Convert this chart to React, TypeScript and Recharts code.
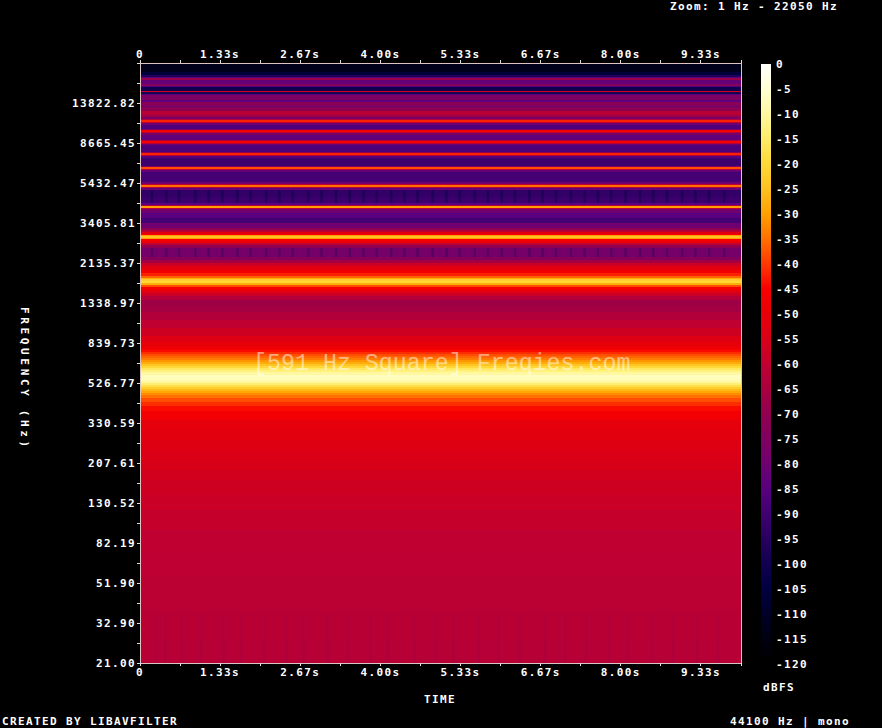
import React from "react";
import { ComposedChart, Area, Bar, XAxis, YAxis } from "recharts";

const PIXEL_FONT = "'DejaVu Sans Mono', monospace";

// Log-frequency bins of the spectrogram (0 = 21 Hz, 600 = 22050 Hz), with the level of each band.
const bandTopBins = [600,591,588,586,585,583,579,577,576,572,571,569,568,563,561,558,555,552,548,546,544,543,541,540,538,534,533,531,530,528,523,522,520,519,518,511,510,508,507,505,497,496,494,493,491,481,479,478,476,475,473,466,460,458,457,455,454,450,445,440,435,433,431,429,428,427,425,424,422,420,418,415,406,403,400,397,393,390,387,385,384,382,380,378,376,373,370,367,363,357,351,343,335,327,321,316,313,311,309,307,305,303,301,299,297,295,293,291,288,284,282,280,278,276,274,272,270,268,265,261,257,252,243,233,223,213,203,193,183,168,153,133,113,88,53,23];
const bandDb = [-113,-106,-97,-85,-68,-82,-74,-84,-100,-55,-98,-86,-76,-84,-72,-76,-70,-62,-67,-77,-62,-42,-60,-80,-87,-77,-45,-62,-77,-83,-65,-45,-62,-80,-87,-70,-42,-62,-85,-91,-75,-38,-62,-82,-89,-80,-60,-35,-62,-82,-93,-91,-85,-62,-30,-60,-80,-85,-89,-80,-70,-62,-52,-45,-30,-24,-30,-45,-50,-60,-70,-78,-74,-66,-58,-52,-47,-42,-36,-28,-22,-20,-28,-38,-46,-52,-58,-63,-67,-66,-63,-60,-57,-53,-50,-47,-44,-41,-38,-36,-34,-31,-28,-24,-20,-16,-13,-10,-7,-8,-10,-14,-18,-22,-26,-29,-32,-35,-38,-41,-44,-47,-51,-52,-53,-54,-55,-56,-57,-58,-59,-60,-60.5,-61,-61.5,-62];

const freqTicks = [0,20,40,60,80,100,120,140,160,180,200,220,240,260,280,300,320,340,360,380,400,420,440,460,480,500,520,540,560,580,600];
const freqLabels = ["21.00","32.90","51.90","82.19","130.52","207.61","330.59","526.77","839.73","1338.97","2135.37","3405.81","5432.47","8665.45","13822.82"];

const timeTicks = [0,0.6667,1.3333,2,2.6667,3.3333,4,4.6667,5.3333,6,6.6667,7.3333,8,8.6667,9.3333,10];
const timeLabels = ["0","1.33s","2.67s","4.00s","5.33s","6.67s","8.00s","9.33s"];
const timeEnds = [0, 10];

// Moments (s) where short dips show up in the low noise floor and in the dark bands.
const lowDipTimes = [0.25,0.4,0.68,1.0,1.37,1.66,2.05,2.42,2.7,3.1,3.45,3.82,4.1,4.55,4.9,5.2,5.62,5.95,6.3,6.72,7.05,7.4,7.78,8.1,8.5,8.85,9.25,9.6];
const midDipTimes = [0.18,0.42,0.63,0.9,1.12,1.35,1.6,1.82,2.08,2.3,2.52,2.78,3.0,3.24,3.47,3.7,3.92,4.16,4.38,4.6,4.85,5.08,5.3,5.55,5.77,6.0,6.22,6.46,6.68,6.9,7.15,7.38,7.6,7.82,8.06,8.3,8.52,8.75,9.0,9.22,9.45,9.7];
const lowDipRange = [0, 48];
const midDipRange = [460, 473];
const lowerDipRange = [406, 415];
const dipLength = 0.04;

const dbTicks = [0,-5,-10,-15,-20,-25,-30,-35,-40,-45,-50,-55,-60,-65,-70,-75,-80,-85,-90,-95,-100,-105,-110,-115,-120];
const dbColors = ["#ffffff","#ffffd4","#fff8a0","#ffec68","#ffd838","#ffc020","#ffa000","#ff7000","#ff3800","#f80000","#e80008","#d80018","#c00030","#a80040","#900050","#800060","#700070","#580080","#400070","#280060","#100050","#000040","#000028","#000010","#000000"];

const hexToRgb = (h: string) => [1, 3, 5].map((i) => parseInt(h.slice(i, i + 2), 16));
const colorOf = (db: number) => {
  const pos = Math.min(dbTicks.length - 1, Math.max(0, -db / 5));
  const i = Math.min(dbTicks.length - 2, Math.floor(pos));
  const a = hexToRgb(dbColors[i]);
  const b = hexToRgb(dbColors[i + 1]);
  const f = pos - i;
  return `rgb(${a.map((v, k) => Math.round(v + (b[k] - v) * f)).join(",")})`;
};

const bands = bandDb.map((db, i) => ({
  key: `band${i}`,
  top: bandTopBins[i],
  bottom: i + 1 < bandTopBins.length ? bandTopBins[i + 1] : 0,
  db,
}));

const spectrumRows = timeEnds.map((t) => {
  const row: Record<string, number | number[]> = { t };
  bands.forEach((b) => {
    row[b.key] = [b.bottom, b.top];
  });
  return row;
});

const dipRows = (times: number[], range: number[]) =>
  times.flatMap((t) => [
    { t, range },
    { t: t + dipLength, range },
    { t: t + dipLength + 0.001, range: null },
  ]);

const colorbarRows = [{ name: "dBFS", range: [-120, 0] }];

const tickStyle = {
  fontFamily: PIXEL_FONT,
  fontSize: 11,
  fontWeight: 700,
  letterSpacing: 1.38,
  fill: "#ffffff",
};
const frame = { stroke: "#dcc4c0", shapeRendering: "crispEdges" };
const tickMark = { stroke: "#e0e0e0", shapeRendering: "crispEdges" };

const fmtTime = (v: number) => {
  const i = timeTicks.indexOf(v);
  return i % 2 === 0 && i / 2 < timeLabels.length ? timeLabels[i / 2] : "";
};
const fmtFreq = (v: number) => (v % 40 === 0 && v / 40 < freqLabels.length ? freqLabels[v / 40] : "");

const Caption = ({ x, y, children, style }: any) => (
  <div
    style={{
      position: "absolute",
      left: x,
      top: y,
      fontFamily: PIXEL_FONT,
      fontSize: 11,
      fontWeight: 700,
      letterSpacing: 1.38,
      lineHeight: "12px",
      color: "#fff",
      whiteSpace: "pre",
      ...style,
    }}
  >
    {children}
  </div>
);

export default function App() {
  return (
    <div style={{ position: "fixed", left: 0, top: 0, width: 882, height: 728, background: "#000", overflow: "hidden" }}>
      <div style={{ position: "absolute", left: 0, top: 0 }}>
        <ComposedChart width={882} height={728} data={spectrumRows} margin={{ top: 0, right: 0, bottom: 0, left: 0 }}>
          <XAxis dataKey="t" type="number" xAxisId="bottom" orientation="bottom" domain={[0, 10]} ticks={timeTicks} interval={0} height={65} tickSize={3} tickMargin={2} tick={tickStyle} tickLine={tickMark} axisLine={frame} tickFormatter={fmtTime} />
          <XAxis dataKey="t" type="number" xAxisId="top" orientation="top" domain={[0, 10]} ticks={timeTicks} interval={0} height={63} tickSize={3} tickMargin={2} tick={tickStyle} tickLine={tickMark} axisLine={frame} tickFormatter={fmtTime} />
          <YAxis type="number" yAxisId="left" orientation="left" domain={[0, 600]} ticks={freqTicks} interval={0} width={140} tickSize={3} tickMargin={1} tick={tickStyle} tickLine={tickMark} axisLine={frame} tickFormatter={fmtFreq} />
          <YAxis type="number" yAxisId="right" orientation="right" domain={[0, 600]} ticks={freqTicks} interval={0} width={141} tickSize={3} tick={false} tickLine={tickMark} axisLine={frame} />
          {bands.map((b) => (
            <Area
              key={b.key}
              xAxisId="bottom"
              yAxisId="left"
              dataKey={b.key}
              type="linear"
              stroke="none"
              fill={colorOf(b.db)}
              fillOpacity={1}
              dot={false}
              activeDot={false}
              isAnimationActive={false}
            />
          ))}
          <Area xAxisId="bottom" yAxisId="left" data={dipRows(lowDipTimes, lowDipRange)} dataKey="range" name="lowDip" type="linear" stroke="none" fill="#800060" fillOpacity={0.14} dot={false} activeDot={false} isAnimationActive={false} />
          <Area xAxisId="bottom" yAxisId="left" data={dipRows(midDipTimes, midDipRange)} dataKey="range" name="midDip" type="linear" stroke="none" fill="#000040" fillOpacity={0.4} dot={false} activeDot={false} isAnimationActive={false} />
          <Area xAxisId="bottom" yAxisId="left" data={dipRows(midDipTimes, lowerDipRange)} dataKey="range" name="lowerDip" type="linear" stroke="none" fill="#000040" fillOpacity={0.25} dot={false} activeDot={false} isAnimationActive={false} />
        </ComposedChart>
      </div>

      <div style={{ position: "absolute", left: 761, top: 54 }}>
        <ComposedChart width={70} height={620} data={colorbarRows} barCategoryGap={0} margin={{ top: 10, right: 0, bottom: 10, left: 0 }}>
          <defs>
            <linearGradient id="dbGrad" x1="0" y1="0" x2="0" y2="1">
              {dbTicks.map((d, i) => (
                <stop key={d} offset={`${(i / (dbTicks.length - 1)) * 100}%`} stopColor={dbColors[i]} />
              ))}
            </linearGradient>
          </defs>
          <XAxis dataKey="name" type="category" hide />
          <YAxis type="number" orientation="right" domain={[-120, 0]} ticks={dbTicks} interval={0} width={60} tickSize={0} tickMargin={5} tickLine={false} axisLine={false} tick={tickStyle} />
          <Bar dataKey="range" fill="url(#dbGrad)" isAnimationActive={false} />
        </ComposedChart>
      </div>

      <div style={{ position: "absolute", left: 253, top: 350, fontFamily: "'Liberation Mono', monospace", fontSize: 23.3, lineHeight: "28px", color: "rgba(255,255,255,0.5)", whiteSpace: "pre" }}>
        [591 Hz Square] Freqies.com
      </div>

      <Caption x={670} y={1}>Zoom: 1 Hz - 22050 Hz</Caption>
      <Caption x={424} y={694}>TIME</Caption>
      <Caption x={763} y={682}>dBFS</Caption>
      <Caption x={2} y={716}>CREATED BY LIBAVFILTER</Caption>
      <Caption x={730} y={716}>44100 Hz | mono</Caption>
      <Caption x={18} y={307} style={{ writingMode: "vertical-rl", letterSpacing: 3.65 }}>FREQUENCY (Hz)</Caption>
    </div>
  );
}
